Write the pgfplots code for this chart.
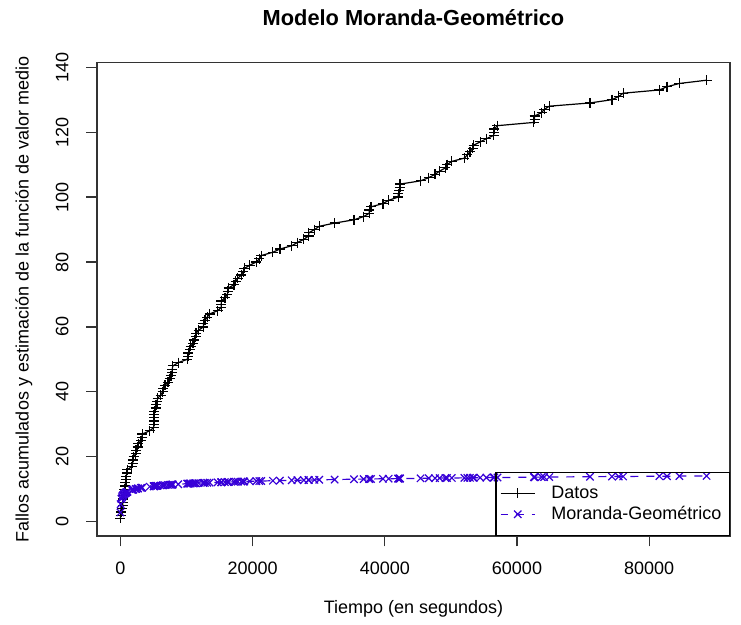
\documentclass[border=0pt]{standalone}
\usepackage{fontspec}
\setmainfont{Liberation Sans}
\usepackage{pgfplots}
\usepackage{pgfplotstable}
\pgfplotsset{compat=1.18}
\definecolor{mgblue}{RGB}{55,0,215}

\pgfplotstableread{
t n m
3 1 2.86
33 2 5.42
146 3 7.05
227 4 7.54
342 5 7.99
351 6 8.02
353 7 8.02
444 8 8.27
556 9 8.52
571 10 8.55
709 11 8.79
759 12 8.86
836 13 8.97
860 14 9.00
968 15 9.13
1056 16 9.23
1726 17 9.77
1846 18 9.84
1872 19 9.86
1986 20 9.92
2311 21 10.09
2366 22 10.11
2608 23 10.22
2676 24 10.25
3098 25 10.41
3278 26 10.47
3288 27 10.48
4434 28 10.80
5034 29 10.94
5049 30 10.95
5085 31 10.96
5089 32 10.96
5089 33 10.96
5097 34 10.96
5324 35 11.01
5389 36 11.02
5565 37 11.05
5623 38 11.07
6080 39 11.15
6380 40 11.21
6477 41 11.22
6740 42 11.27
7192 43 11.34
7447 44 11.38
7644 45 11.40
7837 46 11.43
7843 47 11.43
7922 48 11.44
8738 49 11.55
10089 50 11.71
10237 51 11.73
10258 52 11.73
10491 53 11.75
10625 54 11.77
10982 55 11.80
11175 56 11.82
11411 57 11.84
11442 58 11.85
11811 59 11.88
12559 60 11.95
12559 61 11.95
12791 62 11.97
13121 63 12.00
13486 64 12.03
14708 65 12.12
15251 66 12.16
15261 67 12.16
15277 68 12.16
15806 69 12.20
16185 70 12.23
16229 71 12.23
16358 72 12.24
17168 73 12.29
17458 74 12.31
17758 75 12.33
18287 76 12.36
18568 77 12.38
18728 78 12.39
19556 79 12.44
20567 80 12.49
21012 81 12.52
21308 82 12.53
23063 83 12.62
24127 84 12.67
25910 85 12.75
26770 86 12.78
27753 87 12.82
28460 88 12.85
28493 89 12.85
29361 90 12.88
30085 91 12.91
32408 92 12.99
35338 93 13.09
36799 94 13.13
37642 95 13.16
37654 96 13.16
37915 97 13.17
39715 98 13.22
40580 99 13.24
42015 100 13.28
42045 101 13.28
42188 102 13.28
42296 103 13.29
42296 104 13.29
45406 105 13.36
46653 106 13.39
47596 107 13.42
48296 108 13.43
49171 109 13.45
49416 110 13.46
50145 111 13.47
52042 112 13.51
52489 113 13.52
52875 114 13.53
53321 115 13.54
53443 116 13.54
54433 117 13.56
55381 118 13.58
56463 119 13.60
56485 120 13.60
56560 121 13.61
57042 122 13.61
62551 123 13.72
62651 124 13.72
62661 125 13.72
63732 126 13.74
64103 127 13.74
64893 128 13.76
71043 129 13.86
74364 130 13.91
75409 131 13.92
76057 132 13.93
81542 133 14.01
82702 134 14.02
84566 135 14.05
88682 136 14.10
}\datatable

\begin{document}
\begin{tikzpicture}
\path[use as bounding box] (-48.5pt,-44.5pt) rectangle (322pt,268pt);
\begin{axis}[
  scale only axis, width=316.5pt, height=236.65pt,
  xmin=-3547.28, xmax=92229.28, ymin=-4.4, ymax=141.4,
  axis line style={line width=0.7pt, black!80},
  tick pos=left, tick align=outside, major tick length=5.25pt,
  tick style={black!80, line width=0.6pt},
  xtick={0,20000,40000,60000,80000},
  ytick={0,20,40,60,80,100,120,140},
  scaled x ticks=false,
  /pgf/number format/1000 sep={},
  /pgf/number format/assume math mode=true,
  tick label style={font=\fontsize{9}{10}\selectfont},
  xticklabel style={anchor=base, yshift=-14pt},
  yticklabel style={rotate=90, anchor=base},
  yticklabel shift=9pt,
  legend style={at={(1,0)}, anchor=south east, fill=none, draw=black, line width=0.6pt,
    font=\fontsize{9}{10.5}\selectfont, inner xsep=2pt, inner ysep=4.5pt, row sep=-1.5pt,
    /tikz/every odd column/.append style={column sep=6pt}},
  legend cell align=left,
]
\addplot[black, line width=0.6pt, mark=+, mark size=2.5pt] table[x=t,y=n]{\datatable};
\addplot[mgblue, line width=0.6pt, dash pattern=on 4pt off 4pt, dash phase=0.5pt, mark=x, mark size=2.6pt, mark options={solid}] table[x=t,y=m]{\datatable};
\legend{Datos, Moranda-Geométrico}
\end{axis}
\node[anchor=base, font=\bfseries\fontsize{10.9}{12}\selectfont] at (158.25pt,255pt) {Modelo Moranda-Geométrico};
\node[anchor=base, font=\fontsize{9}{10}\selectfont] at (158.25pt,-39pt) {Tiempo (en segundos)};
\node[anchor=base, rotate=90, font=\fontsize{9}{10}\selectfont] at (-34.25pt,118.3pt) {Fallos acumulados y estimación de la función de valor medio};
\end{tikzpicture}
\end{document}
